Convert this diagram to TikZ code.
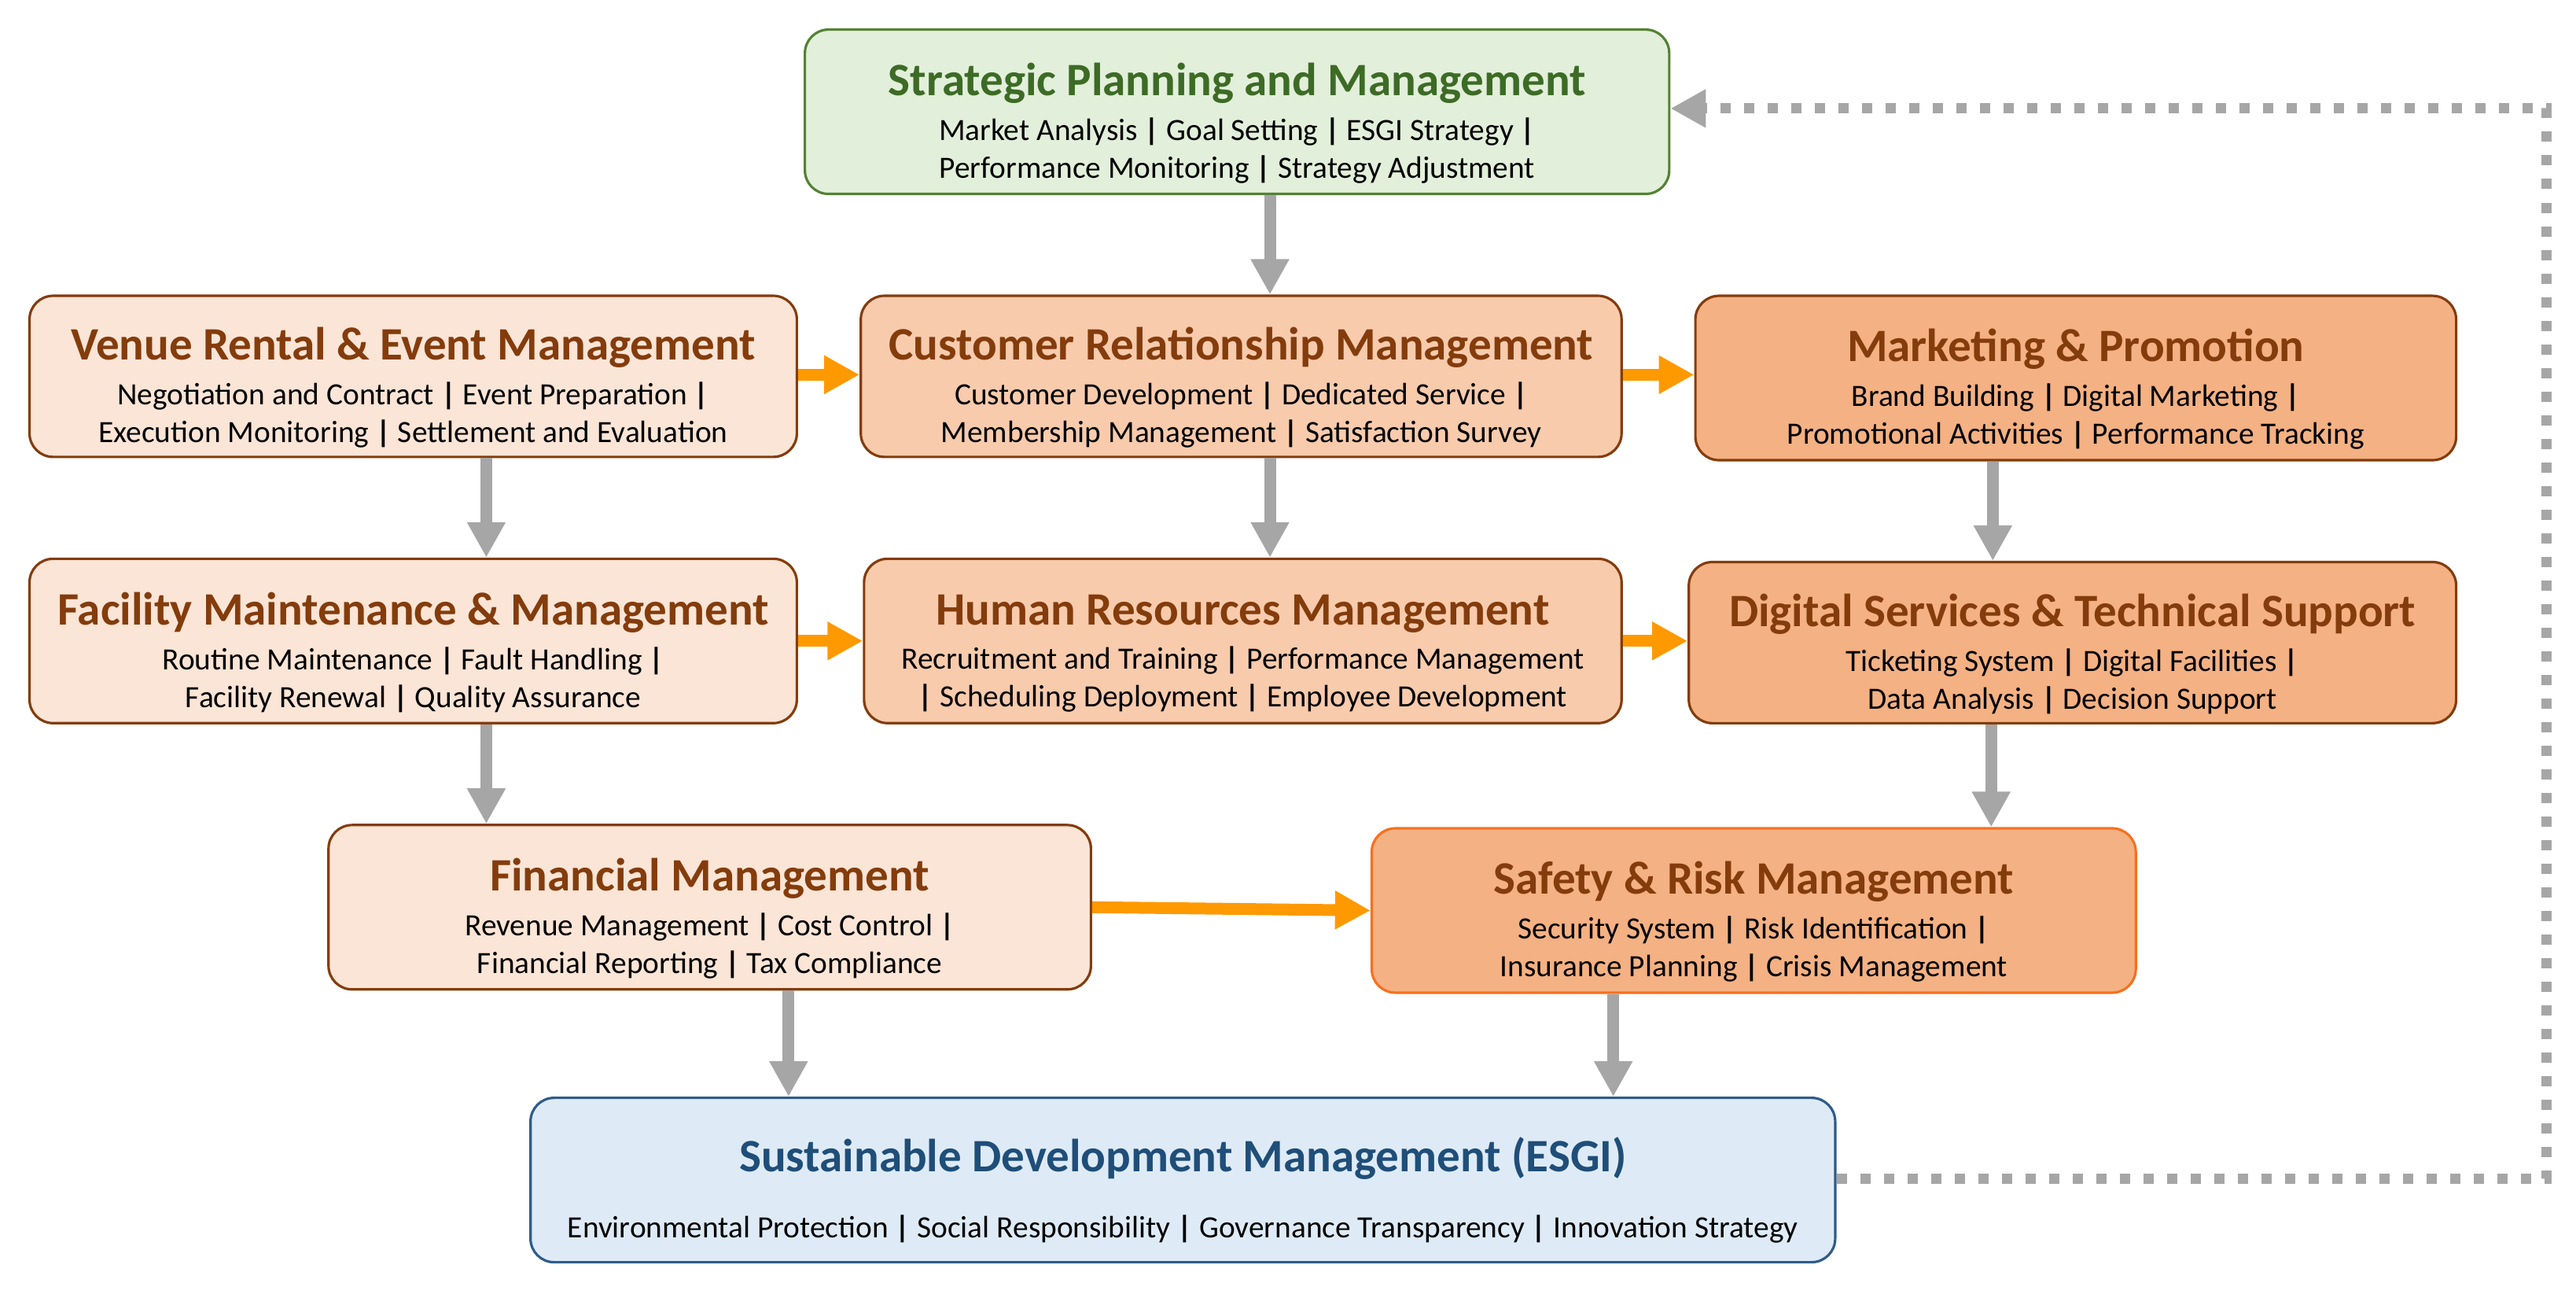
\documentclass[tikz,border=0pt]{standalone}
\usepackage{fontspec}
\setmainfont{Carlito}
\usetikzlibrary{arrows.meta,calc}
\definecolor{gfill}{HTML}{E2EFDA}
\definecolor{gline}{HTML}{548235}
\definecolor{gtitle}{HTML}{3D6B26}
\definecolor{brown}{HTML}{843C0C}
\definecolor{pfillA}{HTML}{FBE5D6}
\definecolor{pfillB}{HTML}{F8CBAD}
\definecolor{pfillC}{HTML}{F4B183}
\definecolor{safeline}{HTML}{F7701E}
\definecolor{bfill}{HTML}{DEEBF7}
\definecolor{bline}{HTML}{2E5C8A}
\definecolor{btitle}{HTML}{1F4E79}
\definecolor{arrgray}{HTML}{A6A6A6}
\definecolor{arrorange}{HTML}{FF9900}
\newcommand\ttl[2]{{\color{#1}\fontsize{16.8}{20}\selectfont\bfseries\rule{0pt}{20pt}#2}}
\newcommand\sepbar{\ \textbf{|}\ }
\newcommand\sepend{\ \textbf{|}}
\tikzset{
  box/.style={draw, rounded corners=0.3cm, line width=0.9pt, align=center, inner sep=0pt,
    font=\fontsize{11.2}{13.7}\selectfont},
  boxA/.style={box, fill=pfillA, draw=brown},
  boxB/.style={box, fill=pfillB, draw=brown},
  boxC/.style={box, fill=pfillC, draw=brown},
  grayarr/.style={draw=arrgray, line width=0.15cm, -{Triangle[width=0.46cm,length=0.45cm]}},
  orarr/.style={draw=arrorange, line width=0.15cm, -{Triangle[width=0.46cm,length=0.45cm]}},
  dotarr/.style={draw=arrgray, line width=0.13cm, dash pattern=on 0.13cm off 0.17cm, -{Triangle[width=0.46cm,length=0.45cm]}}
}
\begin{document}
\begin{tikzpicture}[x=0.020893cm,y=-0.020893cm]
\useasboundingbox (0,0) rectangle (1568,787);

\node[box, fill=gfill, draw=gline, minimum width=10.99cm, minimum height=2.089cm] (strat) at (753,68)
 {\ttl{gtitle}{Strategic Planning and Management}\\[2.4pt]
  Market Analysis\sepbar Goal Setting\sepbar ESGI Strategy\sepend\\
  Performance Monitoring\sepbar Strategy Adjustment};

\node[boxA, minimum width=9.757cm, minimum height=2.048cm] (venue) at (251.5,229)
 {\ttl{brown}{Venue Rental \& Event Management}\\[2.4pt]
  Negotiation and Contract\sepbar Event Preparation\sepend\\
  Execution Monitoring\sepbar Settlement and Evaluation};

\node[boxB, minimum width=9.673cm, minimum height=2.048cm] (crm) at (755.5,229)
 {\ttl{brown}{Customer Relationship Management}\\[2.4pt]
  Customer Development\sepbar Dedicated Service\sepend\\
  Membership Management\sepbar Satisfaction Survey};

\node[boxC, minimum width=9.673cm, minimum height=2.089cm] (mkt) at (1263.5,230)
 {\ttl{brown}{Marketing \& Promotion}\\[2.4pt]
  Brand Building\sepbar Digital Marketing\sepend\\
  Promotional Activities\sepbar Performance Tracking};

\node[boxA, minimum width=9.757cm, minimum height=2.089cm] (fac) at (251.5,390)
 {\ttl{brown}{Facility Maintenance \& Management}\\[2.4pt]
  Routine Maintenance\sepbar Fault Handling\sepend\\
  Facility Renewal\sepbar Quality Assurance};

\node[boxB, minimum width=9.632cm, minimum height=2.089cm] (hr) at (756.5,390)
 {\ttl{brown}{Human Resources Management}\\[2.4pt]
  Recruitment and Training\sepbar Performance Management\\
  \textbf{|}\ Scheduling Deployment\sepbar Employee Development};

\node[boxC, minimum width=9.757cm, minimum height=2.048cm] (dig) at (1261.5,391)
 {\ttl{brown}{Digital Services \& Technical Support}\\[2.4pt]
  Ticketing System\sepbar Digital Facilities\sepend\\
  Data Analysis\sepbar Decision Support};

\node[boxA, minimum width=9.694cm, minimum height=2.089cm] (fin) at (432,552)
 {\ttl{brown}{Financial Management}\\[2.4pt]
  Revenue Management\sepbar Cost Control\sepend\\
  Financial Reporting\sepbar Tax Compliance};

\node[box, fill=pfillC, draw=safeline, minimum width=9.715cm, minimum height=2.089cm] (safe) at (1067.5,554)
 {\ttl{brown}{Safety \& Risk Management}\\[2.4pt]
  Security System\sepbar Risk Identification\sepend\\
  Insurance Planning\sepbar Crisis Management};

\node[box, fill=bfill, draw=bline, minimum width=16.589cm, minimum height=2.089cm] (sust) at (720,718)
 {\ttl{btitle}{Sustainable Development Management (ESGI)}\\[10.2pt]
  Environmental Protection\sepbar Social Responsibility\sepbar Governance Transparency\sepbar Innovation Strategy};

% gray vertical arrows
\draw[grayarr] (773,0 |- strat.south) -- (773,0 |- crm.north);
\draw[grayarr] (296,0 |- venue.south) -- (296,0 |- fac.north);
\draw[grayarr] (773,0 |- crm.south) -- (773,0 |- hr.north);
\draw[grayarr] (1213,0 |- mkt.south) -- (1213,0 |- dig.north);
\draw[grayarr] (296,0 |- fac.south) -- (296,0 |- fin.north);
\draw[grayarr] (1212,0 |- dig.south) -- (1212,0 |- safe.north);
\draw[grayarr] (480,0 |- fin.south) -- (480,0 |- sust.north);
\draw[grayarr] (982,0 |- safe.south) -- (982,0 |- sust.north);

% orange horizontal arrows
\draw[orarr] (venue.east |- 0,228) -- (crm.west |- 0,228);
\draw[orarr] (crm.east |- 0,228) -- (mkt.west |- 0,228);
\draw[orarr] (fac.east) -- (fac.east -| hr.west);
\draw[orarr] (hr.east) -- (hr.east -| dig.west);
\draw[orarr] (fin.east) -- (safe.west);

% dotted feedback
\coordinate (fbbot) at (1550,717);
\coordinate (fbtop) at (1550,66);
\draw[dotarr] (sust.east |- fbbot) -- (fbbot) -- (fbtop) -- (fbtop -| strat.east);
\end{tikzpicture}
\end{document}
